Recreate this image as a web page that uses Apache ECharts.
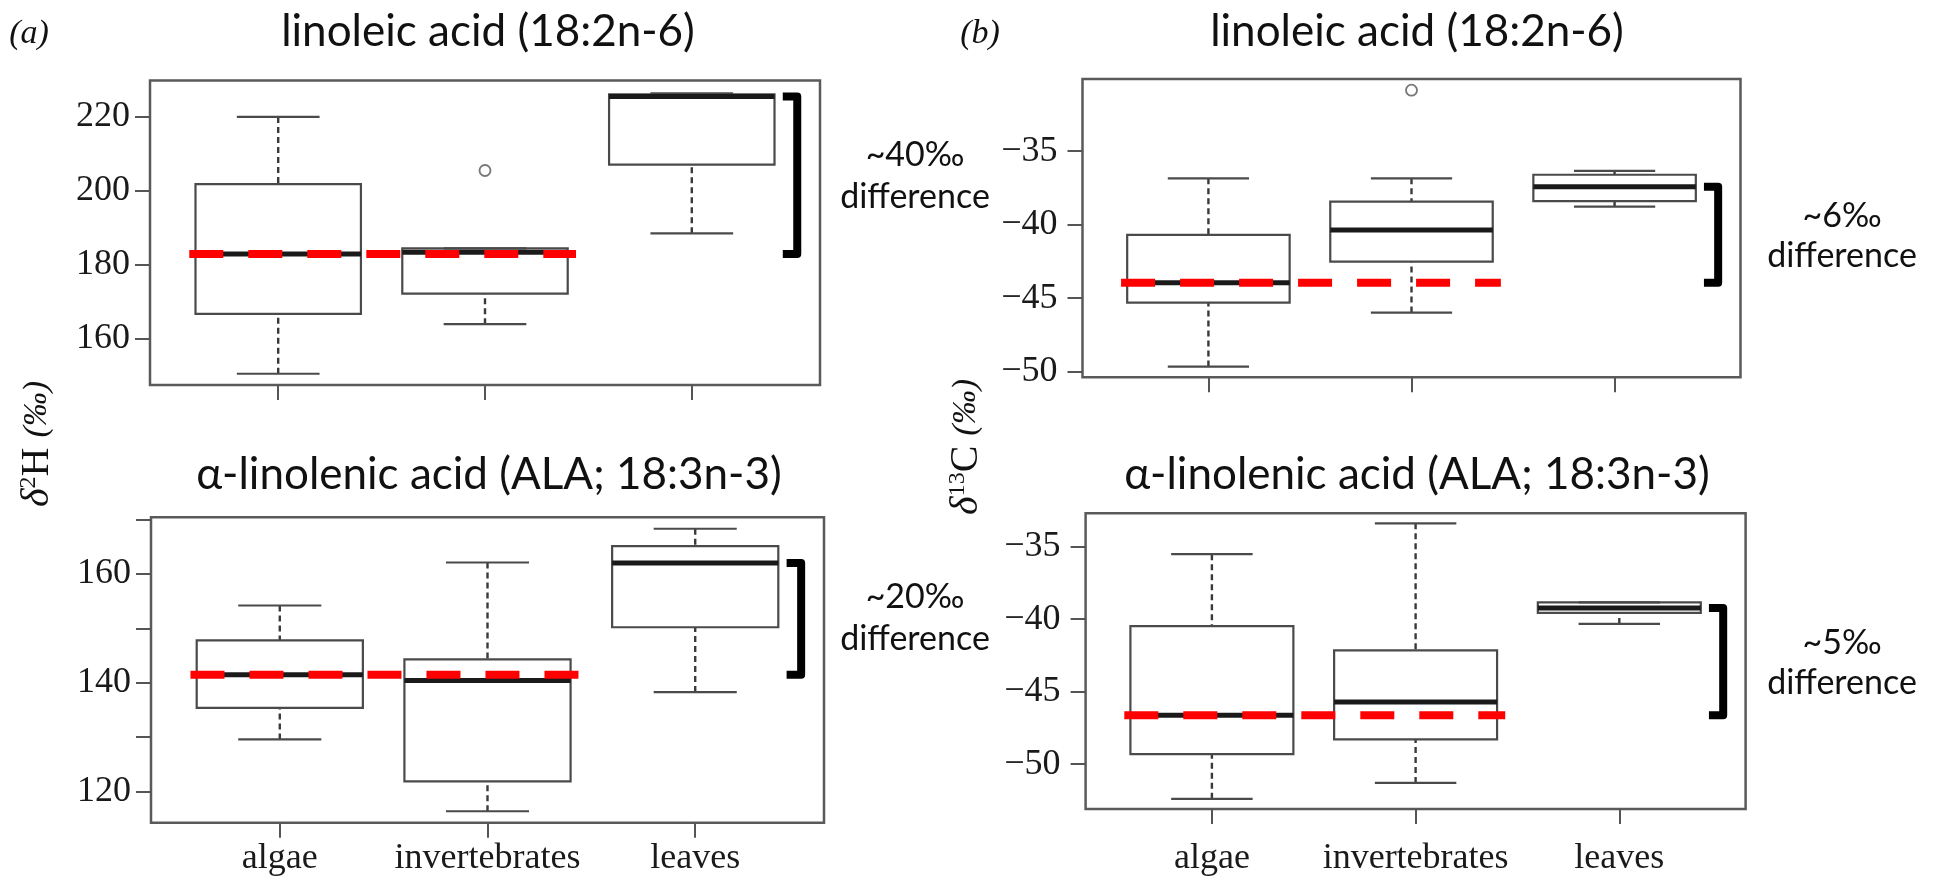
<!DOCTYPE html>
<html>
<head>
<meta charset="utf-8">
<title>fatty acid isotopes</title>
<script src="https://cdn.jsdelivr.net/npm/echarts@6/dist/echarts.min.js"></script>
<style>
  html, body { margin: 0; padding: 0; background: #fff; }
  #chart { width: 1935px; height: 877px; }
</style>
</head>
<body>
<div id="chart"></div>
<script>
// categories on the x axis
const categories = ["algae", "invertebrates", "leaves"];

// box stats per category: [lower whisker, Q1, median, Q3, upper whisker]
const h2LinoleicBoxes = [
  [150.4, 166.6, 182.8, 201.7, 219.9],
  [163.8, 172.1, 183.3, 184.3, 184.3],
  [188.4, 207.0, 225.4, 226.0, 226.3]
];
const h2AlaBoxes = [
  [129.6, 135.4, 141.5, 147.8, 154.2],
  [116.4, 121.9, 140.4, 144.3, 162.1],
  [138.3, 150.2, 162.0, 165.1, 168.3]
];
const c13LinoleicBoxes = [
  [-49.65, -45.3, -43.95, -40.7, -36.85],
  [-45.98, -42.52, -40.37, -38.44, -36.85],
  [-38.78, -38.4, -37.43, -36.61, -36.34]
];
const c13AlaBoxes = [
  [-52.4, -49.31, -46.63, -40.49, -35.52],
  [-51.3, -48.3, -45.71, -42.16, -33.39],
  [-40.33, -39.57, -39.23, -38.85, -38.85]
];

// outliers: category index (1-based) and value
const h2LinoleicOutlierCat = [2];
const h2LinoleicOutlierVal = [205.4];
const c13LinoleicOutlierCat = [2];
const c13LinoleicOutlierVal = [-30.86];

// y axis tick values and labelled values
const h2LinoleicTicks = [160, 180, 200, 220];
const h2AlaTicks = [120, 130, 140, 150, 160, 170];
const h2AlaLabels = [120, 140, 160];
const c13Ticks = [-50, -45, -40, -35];

// axis extents (R style 4% padding)
const h2LinoleicRange = [147.35, 229.75];
const h2AlaRange = [114.3, 170.4];
const c13LinoleicRange = [-50.38, -30.1];
const c13AlaRange = [-53.1, -32.7];

const diffLabels = ["~40‰", "~20‰", "~6‰", "~5‰"];
const titles = ["linoleic acid (18:2n-6)", "α-linolenic acid (ALA; 18:3n-3)"];

const SERIF = "'Liberation Serif', 'DejaVu Serif', serif";
const SANS = "Lato, 'Noto Sans', sans-serif";
const X_MIN = 0.38;
const X_MAX = 3.62;
const REF_START = 0.57;
const REF_END = 2.44;
const BRACKET_X = 3.51;
const HOOK_X = 3.44;

const chart = echarts.init(document.getElementById("chart"));

function fmtNum(v) {
  return v < 0 ? "\u2212" + Math.abs(v) : String(v);
}

function renderBox(params, api) {
  const x = api.value(0);
  const lo = api.coord([x, api.value(1)]);
  const q1 = api.coord([x, api.value(2)]);
  const med = api.coord([x, api.value(3)]);
  const q3 = api.coord([x, api.value(4)]);
  const hi = api.coord([x, api.value(5)]);
  const half = api.size([0.8, 0])[0] / 2;
  const cap = half / 2;
  const grey = "#4a4a4a";
  const dashStyle = { stroke: "#3a3a3a", lineWidth: 2.4, lineDash: [6, 4] };
  const solid = { stroke: grey, lineWidth: 2.2 };
  return {
    type: "group",
    children: [
      { type: "line", shape: { x1: hi[0], y1: hi[1], x2: q3[0], y2: q3[1] }, style: dashStyle },
      { type: "line", shape: { x1: lo[0], y1: lo[1], x2: q1[0], y2: q1[1] }, style: dashStyle },
      { type: "line", shape: { x1: hi[0] - cap, y1: hi[1], x2: hi[0] + cap, y2: hi[1] }, style: solid },
      { type: "line", shape: { x1: lo[0] - cap, y1: lo[1], x2: lo[0] + cap, y2: lo[1] }, style: solid },
      {
        type: "rect",
        shape: { x: q3[0] - half, y: q3[1], width: half * 2, height: q1[1] - q3[1] },
        style: { fill: "none", stroke: grey, lineWidth: 2.2 }
      },
      {
        type: "line",
        shape: { x1: med[0] - half, y1: med[1], x2: med[0] + half, y2: med[1] },
        style: { stroke: "#1a1a1a", lineWidth: 5 }
      }
    ]
  };
}

function renderBracket(params, api) {
  const top = api.coord([BRACKET_X, api.value(0)]);
  const bottom = api.coord([BRACKET_X, api.value(1)]);
  const hookTop = api.coord([HOOK_X, api.value(0)]);
  const hookBottom = api.coord([HOOK_X, api.value(1)]);
  return {
    type: "polyline",
    shape: { points: [hookTop, top, bottom, hookBottom] },
    style: { stroke: "#000", lineWidth: 8, fill: "none", lineJoin: "round" }
  };
}

function boxData(boxes) {
  return boxes.map((b, i) => [i + 1].concat(b));
}

// one panel = grid + axes + series
const panels = [
  {
    grid: { left: 150, top: 80.5, width: 670, height: 304.5 },
    boxes: h2LinoleicBoxes, range: h2LinoleicRange, ticks: h2LinoleicTicks, labels: h2LinoleicTicks,
    outCat: h2LinoleicOutlierCat, outVal: h2LinoleicOutlierVal, showX: false, yMargin: 20, xMargin: 18
  },
  {
    grid: { left: 151, top: 517.3, width: 673, height: 305.4 },
    boxes: h2AlaBoxes, range: h2AlaRange, ticks: h2AlaTicks, labels: h2AlaLabels,
    outCat: [], outVal: [], showX: true, yMargin: 20, xMargin: 18
  },
  {
    grid: { left: 1082.5, top: 79, width: 658, height: 298.3 },
    boxes: c13LinoleicBoxes, range: c13LinoleicRange, ticks: c13Ticks, labels: c13Ticks,
    outCat: c13LinoleicOutlierCat, outVal: c13LinoleicOutlierVal, showX: false, yMargin: 25, xMargin: 18
  },
  {
    grid: { left: 1085.6, top: 513.3, width: 660, height: 296.7 },
    boxes: c13AlaBoxes, range: c13AlaRange, ticks: c13Ticks, labels: c13Ticks,
    outCat: [], outVal: [], showX: true, yMargin: 25, xMargin: 32
  }
];

const grids = [];
const xAxes = [];
const yAxes = [];
const series = [];

panels.forEach((p, i) => {
  grids.push(Object.assign({ show: true, borderColor: "#5a5a5a", borderWidth: 2.5, backgroundColor: "transparent" }, p.grid));
  xAxes.push({
    type: "value", gridIndex: i, min: X_MIN, max: X_MAX,
    axisLine: { show: false },
    splitLine: { show: false },
    axisTick: { show: true, length: 15, customValues: [1, 2, 3], lineStyle: { color: "#555", width: 2 } },
    axisLabel: {
      show: p.showX, customValues: [1, 2, 3], margin: p.xMargin,
      fontFamily: SERIF, fontSize: 36, color: "#1a1a1a",
      formatter: v => categories[Math.round(v) - 1] || ""
    }
  });
  yAxes.push({
    type: "value", gridIndex: i, min: p.range[0], max: p.range[1],
    axisLine: { show: false },
    splitLine: { show: false },
    axisTick: { show: true, length: 15, customValues: p.ticks, lineStyle: { color: "#555", width: 2 } },
    axisLabel: {
      customValues: p.labels, margin: p.yMargin,
      fontFamily: SERIF, fontSize: 36, color: "#1a1a1a",
      formatter: fmtNum
    }
  });

  const algaeMedian = p.boxes[0][2];
  const leavesMedian = p.boxes[2][2];

  series.push({
    type: "custom", xAxisIndex: i, yAxisIndex: i,
    renderItem: renderBox, data: boxData(p.boxes), z: 2, silent: true, clip: false
  });
  series.push({
    type: "scatter", xAxisIndex: i, yAxisIndex: i,
    symbol: "circle", symbolSize: 11,
    itemStyle: { color: "rgba(0,0,0,0)", borderColor: "#555", borderWidth: 1.8 },
    data: p.outCat.map((c, k) => [c, p.outVal[k]]), z: 3, silent: true
  });
  series.push({
    type: "line", xAxisIndex: i, yAxisIndex: i,
    data: [[REF_START, algaeMedian], [REF_END, algaeMedian]],
    symbol: "none", silent: true, z: 5,
    lineStyle: { color: "#ff0000", width: 8, type: [34, 25], cap: "butt" }
  });
  series.push({
    type: "custom", xAxisIndex: i, yAxisIndex: i,
    renderItem: renderBracket, data: [[leavesMedian, algaeMedian]], z: 6, silent: true, clip: false
  });
});

function textEl(x, y, text, font, size, extra) {
  return {
    type: "text", x: x, y: y, silent: true,
    style: Object.assign({
      text: text, fontFamily: font, fontSize: size, fill: "#111",
      align: "center", verticalAlign: "middle"
    }, extra || {})
  };
}

const graphics = [
  textEl(488, 32, titles[0], SANS, 44),
  textEl(1417, 32, titles[0], SANS, 44),
  textEl(489, 475, titles[1], SANS, 44),
  textEl(1417, 475, titles[1], SANS, 44),
  textEl(29, 34, "(a)", SERIF, 34, { fontStyle: "italic" }),
  textEl(980, 34, "(b)", SERIF, 34, { fontStyle: "italic" }),
  textEl(915, 176, diffLabels[0] + "\ndifference", SANS, 34, { lineHeight: 42 }),
  textEl(915, 618, diffLabels[1] + "\ndifference", SANS, 34, { lineHeight: 42 }),
  textEl(1842, 236, diffLabels[2] + "\ndifference", SANS, 34, { lineHeight: 40 }),
  textEl(1842, 663, diffLabels[3] + "\ndifference", SANS, 34, { lineHeight: 40 })
];

const richY = {
  d: { fontFamily: SERIF, fontSize: 40, fontStyle: "italic", fill: "#111" },
  s: { fontFamily: SERIF, fontSize: 24, verticalAlign: "top", fill: "#111" },
  r: { fontFamily: SERIF, fontSize: 40, fill: "#111" },
  p: { fontFamily: SERIF, fontSize: 34, fontStyle: "italic", fill: "#111", padding: [0, 0, 0, 10] }
};
graphics.push({
  type: "text", x: 37, y: 444, rotation: Math.PI / 2, silent: true,
  style: { text: "{d|δ}{s|2}{r|H}{p|(‰)}", rich: richY, align: "center", verticalAlign: "middle" }
});
graphics.push({
  type: "text", x: 966, y: 447, rotation: Math.PI / 2, silent: true,
  style: { text: "{d|δ}{s|13}{r|C}{p|(‰)}", rich: richY, align: "center", verticalAlign: "middle" }
});

chart.setOption({
  animation: false,
  backgroundColor: "#fff",
  grid: grids,
  xAxis: xAxes,
  yAxis: yAxes,
  series: series,
  graphic: graphics
});
</script>
</body>
</html>
